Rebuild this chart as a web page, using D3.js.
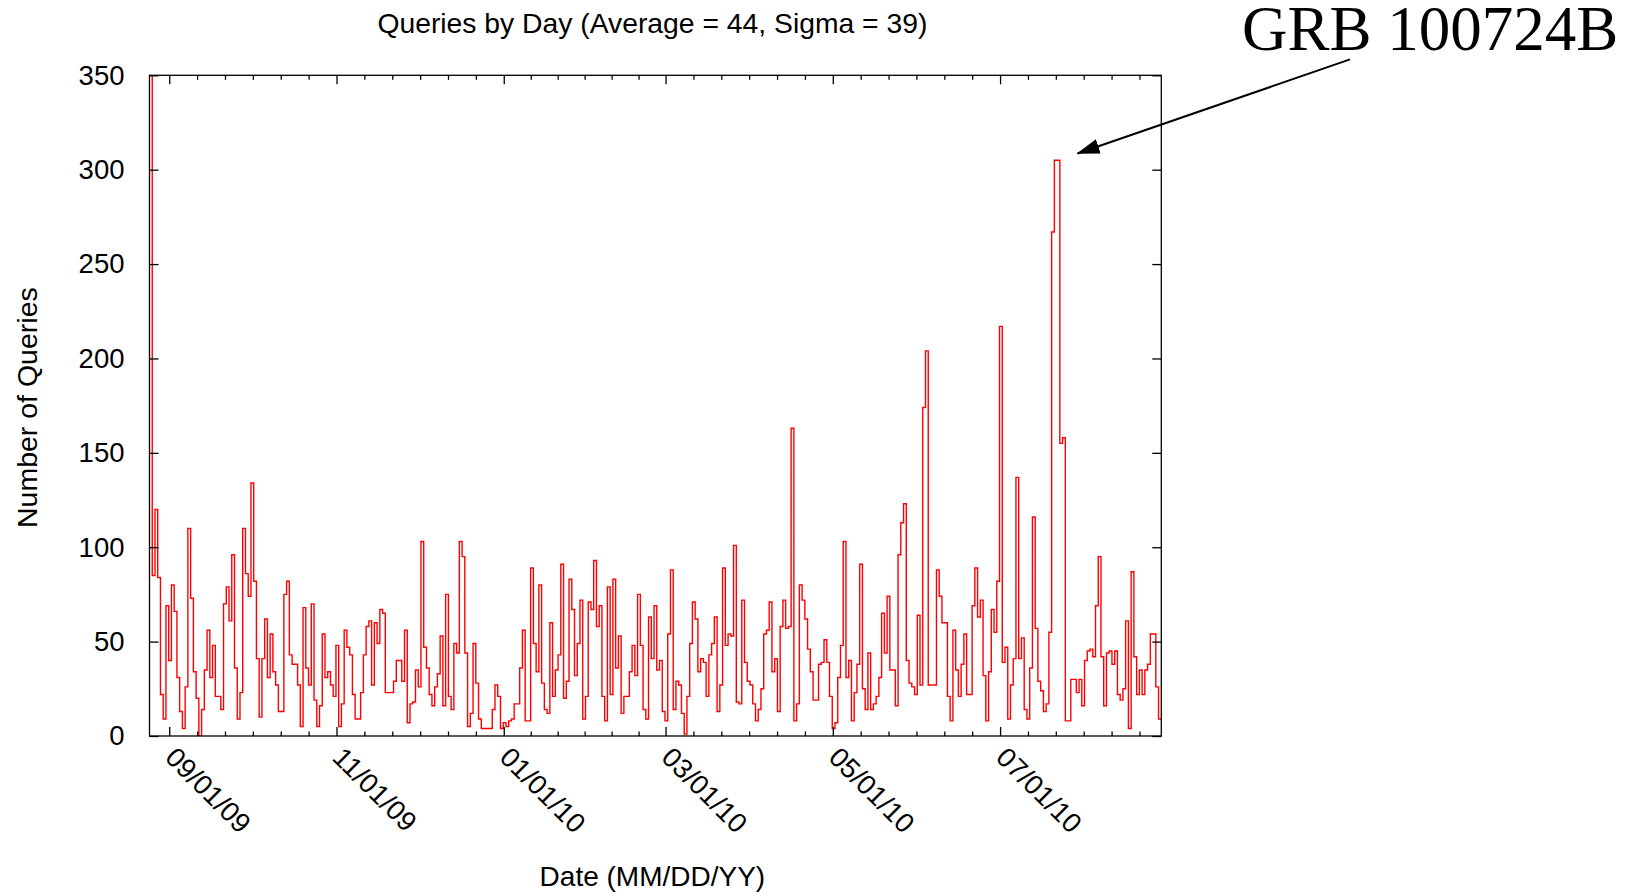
<!DOCTYPE html>
<html>
<head>
<meta charset="utf-8">
<style>
  body { margin: 0; background: #fff; }
  svg { display: block; }
</style>
</head>
<body>
<svg width="1639" height="895"></svg>
<script src="https://d3js.org/d3.v7.min.js"></script>
<script>
// first daily bin of the series (UTC)
var firstDay = Date.UTC(2009, 7, 24, 19, 12);

// queries per day, one value per day
var queries = [
  350, 85, 120, 84, 22, 9, 69, 40, 80, 66, 31, 13, 4, 26, 110, 73, 34, 20, 0, 14,
  35, 56, 31, 48, 21, 21, 14, 70, 79, 61, 96, 36, 9, 23, 110, 86, 74, 134, 82, 41,
  10, 41, 62, 31, 54, 34, 27, 13, 13, 75, 82, 43, 38, 38, 27, 5, 68, 36, 27, 70,
  19, 5, 16, 54, 31, 34, 27, 21, 48, 5, 17, 56, 47, 43, 22, 9, 9, 23, 43, 58,
  61, 27, 60, 49, 67, 65, 23, 23, 23, 29, 40, 40, 29, 56, 7, 17, 18, 35, 26, 103,
  47, 36, 22, 16, 26, 33, 53, 16, 75, 21, 14, 49, 44, 103, 95, 44, 5, 12, 49, 28,
  9, 4, 4, 4, 4, 14, 27, 21, 4, 7, 5, 8, 9, 17, 17, 36, 56, 8, 8, 89,
  49, 34, 80, 28, 14, 12, 60, 21, 35, 43, 91, 20, 29, 83, 67, 32, 49, 72, 9, 21,
  71, 67, 93, 58, 69, 21, 8, 79, 22, 83, 36, 53, 12, 21, 21, 34, 48, 32, 75, 48,
  14, 9, 63, 41, 69, 35, 40, 13, 8, 54, 88, 14, 29, 27, 12, 1, 21, 49, 71, 62,
  34, 41, 39, 21, 43, 49, 63, 13, 27, 89, 48, 54, 53, 101, 18, 17, 72, 39, 29, 27,
  17, 8, 14, 25, 54, 56, 71, 34, 41, 13, 58, 72, 57, 58, 163, 8, 17, 80, 72, 62,
  46, 34, 19, 19, 38, 39, 51, 39, 21, 4, 7, 31, 48, 103, 31, 40, 8, 23, 38, 91,
  25, 14, 44, 14, 17, 21, 31, 65, 44, 74, 35, 35, 16, 96, 113, 123, 40, 28, 26, 22,
  64, 27, 174, 204, 27, 27, 27, 88, 74, 60, 60, 21, 8, 56, 35, 21, 38, 54, 22, 22,
  69, 89, 63, 72, 32, 8, 34, 67, 55, 82, 217, 39, 47, 9, 27, 41, 137, 41, 52, 14,
  9, 36, 116, 57, 29, 24, 13, 17, 55, 267, 305, 305, 155, 158, 8, 8, 30, 30, 23, 30,
  16, 40, 45, 46, 42, 69, 95, 42, 16, 44, 45, 38, 45, 22, 19, 25, 61, 4, 87, 42,
  22, 35, 22, 35, 38, 54, 54, 26, 9, 9
];

var yTicks = [0, 50, 100, 150, 200, 250, 300, 350];
var xTickDates = ["2009-09-01", "2009-11-01", "2010-01-01", "2010-03-01", "2010-05-01", "2010-07-01"];
var minorPerMajor = 6;

var titleText = "Queries by Day (Average = 44, Sigma = 39)";
var xTitle = "Date (MM/DD/YY)";
var yTitle = "Number of Queries";
var noteText = "GRB 100724B";

var svg = d3.select("svg"),
    margin = {top: 75.3, left: 149.5},
    width = 1011.8,
    height = 660.7,
    g = svg.append("g").attr("transform", "translate(" + margin.left + "," + margin.top + ")");

var sans = "'Liberation Sans', Arial, Helvetica, sans-serif";

var data = queries.map(function(v, i) {
    return {date: new Date(firstDay + i * 864e5), value: v};
});

var x = d3.scaleUtc()
    .domain([data[0].date, data[data.length - 1].date])
    .range([0, width]);
var y = d3.scaleLinear().domain([0, 350]).range([height, 0]);

var majors = xTickDates.map(function(s) { return new Date(s + "T00:00:00Z"); });
var minors = [];
majors.forEach(function(m, i) {
    var next = majors[i + 1];
    var step = next ? (next - m) / minorPerMajor : (m - majors[i - 1]) / minorPerMajor;
    for (var k = 1; k < minorPerMajor; k++) {
        var t = new Date(+m + k * step);
        if (t <= x.domain()[1]) minors.push(t);
    }
});

// clip + step line
svg.append("defs").append("clipPath").attr("id", "plot")
  .append("rect").attr("width", width).attr("height", height);

var line = d3.line()
    .x(function(d) { return x(d.date); })
    .y(function(d) { return y(d.value); })
    .curve(d3.curveStepAfter);

g.append("path").datum(data)
    .attr("clip-path", "url(#plot)")
    .attr("fill", "none")
    .attr("stroke", "#ff0000")
    .attr("stroke-width", 1.4)
    .attr("d", line);

// ticks (all pointing inward)
function styleAxis(sel) {
    sel.attr("font-family", sans).attr("font-size", 27.5).attr("color", "#000");
    sel.select(".domain").remove();
    sel.selectAll(".tick line").attr("stroke-width", 1.3);
}

g.append("g").attr("transform", "translate(0," + height + ")")
    .call(d3.axisBottom(x).tickValues(majors).tickSizeInner(-9).tickSizeOuter(0)
        .tickFormat(d3.utcFormat("%m/%d/%y")))
    .call(styleAxis)
    .selectAll("text")
    .attr("y", 0).attr("dy", 0)
    .attr("text-anchor", "start")
    .attr("transform", "translate(-6,23) rotate(45)");

g.append("g").attr("transform", "translate(0," + height + ")")
    .call(d3.axisBottom(x).tickValues(minors).tickSizeInner(-4.5).tickSizeOuter(0).tickFormat(""))
    .call(styleAxis);

g.append("g")
    .call(d3.axisTop(x).tickValues(majors).tickSizeInner(-9).tickSizeOuter(0).tickFormat(""))
    .call(styleAxis);

g.append("g")
    .call(d3.axisTop(x).tickValues(minors).tickSizeInner(-4.5).tickSizeOuter(0).tickFormat(""))
    .call(styleAxis);

g.append("g")
    .call(d3.axisLeft(y).tickValues(yTicks).tickSizeInner(-9).tickSizeOuter(0).tickPadding(25))
    .call(styleAxis);

g.append("g").attr("transform", "translate(" + width + ",0)")
    .call(d3.axisRight(y).tickValues(yTicks).tickSizeInner(-9).tickSizeOuter(0).tickFormat(""))
    .call(styleAxis);

// frame
g.append("rect")
    .attr("width", width).attr("height", height)
    .attr("fill", "none").attr("stroke", "#000").attr("stroke-width", 1.3);

// titles
svg.append("text")
    .attr("x", margin.left + width / 2 - 3).attr("y", 33)
    .attr("text-anchor", "middle")
    .attr("font-family", sans).attr("font-size", 28.3)
    .text(titleText);

svg.append("text")
    .attr("x", margin.left + width / 2 - 3).attr("y", 886)
    .attr("text-anchor", "middle")
    .attr("font-family", sans).attr("font-size", 28)
    .text(xTitle);

svg.append("text")
    .attr("transform", "translate(36.7," + (margin.top + height / 2 + 2) + ") rotate(-90)")
    .attr("text-anchor", "middle")
    .attr("font-family", sans).attr("font-size", 28.5)
    .text(yTitle);

// annotation
svg.select("defs").append("marker")
    .attr("id", "head")
    .attr("markerUnits", "userSpaceOnUse")
    .attr("viewBox", "0 -8 24 16")
    .attr("refX", 22).attr("refY", 0)
    .attr("markerWidth", 24).attr("markerHeight", 16)
    .attr("orient", "auto")
  .append("path")
    .attr("d", "M0,-7.5L23,0L0,7.5Z")
    .attr("fill", "#000");

svg.append("line")
    .attr("x1", 1350).attr("y1", 59.4)
    .attr("x2", 1077.5).attr("y2", 153.5)
    .attr("stroke", "#000").attr("stroke-width", 2)
    .attr("marker-end", "url(#head)");

svg.append("text")
    .attr("x", 1242).attr("y", 50)
    .attr("font-family", "'Liberation Serif', 'Times New Roman', serif")
    .attr("font-size", 63)
    .text(noteText);
</script>
</body>
</html>
